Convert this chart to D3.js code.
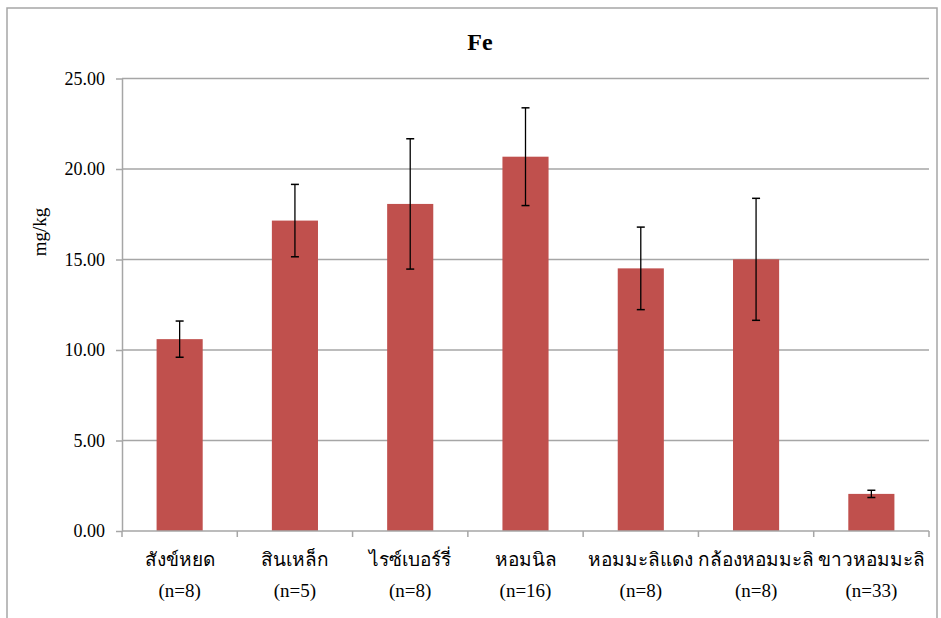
<!DOCTYPE html>
<html>
<head>
<meta charset="utf-8">
<script src="https://cdn.jsdelivr.net/npm/d3@7"></script>
<style>
  body { margin: 0; background: #fff; }
  svg text { font-family: "Liberation Serif", "Times New Roman", Tinos, "DejaVu Serif", serif; fill: #000; }
</style>
</head>
<body>
<div id="chart"></div>
<script>
// data
var cultivars = ["สังข์หยด", "สินเหล็ก", "ไรซ์เบอร์รี่", "หอมนิล", "หอมมะลิแดง", "กล้องหอมมะลิ", "ขาวหอมมะลิ"];
var sampleN = ["(n=8)", "(n=5)", "(n=8)", "(n=16)", "(n=8)", "(n=8)", "(n=33)"];
var feMean = [10.6, 17.15, 18.07, 20.68, 14.51, 15.01, 2.05];
var feSD = [1.0, 2.0, 3.6, 2.7, 2.28, 3.37, 0.2];
var yTicks = [0, 5, 10, 15, 20, 25];

var serif = "'Liberation Serif', 'Times New Roman', Tinos, 'DejaVu Serif', serif";

var svgWidth = 941;
var svgHeight = 618;

var margin = { top: 78.5, right: 12, bottom: 87, left: 122 };
var chartWidth = svgWidth - margin.left - margin.right;
var chartHeight = svgHeight - margin.top - margin.bottom;

var svg = d3.select("#chart")
  .append("svg")
  .attr("width", svgWidth)
  .attr("height", svgHeight)
  .attr("font-family", serif);

// outer chart frame
svg.append("rect")
  .attr("x", 7)
  .attr("y", 8)
  .attr("width", 930)
  .attr("height", 650)
  .attr("fill", "none")
  .attr("stroke", "#a6a6a6")
  .attr("stroke-width", 1.5);

var chartGroup = svg.append("g")
  .attr("transform", `translate(${margin.left}, ${margin.top})`);

var xScale = d3.scaleBand()
  .domain(cultivars)
  .range([0, chartWidth])
  .paddingInner(0.6)
  .paddingOuter(0.3);

var yScale = d3.scaleLinear()
  .domain([0, 25])
  .range([chartHeight, 0]);

// gridlines
chartGroup.selectAll(".grid")
  .data(yTicks.slice(1))
  .enter()
  .append("line")
  .attr("x1", 0)
  .attr("x2", chartWidth)
  .attr("y1", d => yScale(d))
  .attr("y2", d => yScale(d))
  .attr("stroke", "#a6a6a6")
  .attr("stroke-width", 1.5);

// bars
chartGroup.selectAll(".bar")
  .data(feMean)
  .enter()
  .append("rect")
  .attr("x", (d, i) => xScale(cultivars[i]))
  .attr("y", d => yScale(d))
  .attr("width", xScale.bandwidth())
  .attr("height", d => chartHeight - yScale(d))
  .attr("fill", "#c0504d");

// error bars
var err = chartGroup.selectAll(".err")
  .data(feMean)
  .enter()
  .append("g")
  .attr("transform", (d, i) => `translate(${xScale(cultivars[i]) + xScale.bandwidth() / 2},0)`);

err.append("line")
  .attr("y1", (d, i) => yScale(d + feSD[i]))
  .attr("y2", (d, i) => yScale(d - feSD[i]))
  .attr("stroke", "#000")
  .attr("stroke-width", 1.3);

err.append("line")
  .attr("x1", -4).attr("x2", 4)
  .attr("y1", (d, i) => yScale(d + feSD[i]))
  .attr("y2", (d, i) => yScale(d + feSD[i]))
  .attr("stroke", "#000")
  .attr("stroke-width", 1.5);

err.append("line")
  .attr("x1", -4).attr("x2", 4)
  .attr("y1", (d, i) => yScale(d - feSD[i]))
  .attr("y2", (d, i) => yScale(d - feSD[i]))
  .attr("stroke", "#000")
  .attr("stroke-width", 1.5);

// left axis
var leftAxis = d3.axisLeft(yScale)
  .tickValues(yTicks)
  .tickFormat(d3.format(".2f"))
  .tickSize(6)
  .tickSizeOuter(0)
  .tickPadding(11);

var yAxisG = chartGroup.append("g")
  .call(leftAxis)
  .attr("font-family", serif)
  .attr("font-size", 18);
yAxisG.selectAll("path, line").attr("stroke", "#a6a6a6").attr("stroke-width", 1.5);
yAxisG.selectAll("text").attr("fill", "#000");

// bottom axis with boundary ticks
var bottomG = chartGroup.append("g")
  .attr("transform", `translate(0, ${chartHeight})`);

bottomG.append("line")
  .attr("x1", 0).attr("x2", chartWidth)
  .attr("stroke", "#a6a6a6")
  .attr("stroke-width", 1.5);

var step = xScale.step();
bottomG.selectAll(".xtick")
  .data(d3.range(cultivars.length + 1))
  .enter()
  .append("line")
  .attr("x1", d => d * step)
  .attr("x2", d => d * step)
  .attr("y1", 0)
  .attr("y2", 6)
  .attr("stroke", "#a6a6a6")
  .attr("stroke-width", 1.5);

var labels = bottomG.selectAll(".xlab")
  .data(cultivars)
  .enter()
  .append("text")
  .attr("text-anchor", "middle")
  .attr("x", d => xScale(d) + xScale.bandwidth() / 2)
  .attr("font-size", 19);

labels.append("tspan")
  .attr("x", d => xScale(d) + xScale.bandwidth() / 2)
  .attr("y", 35)
  .text(d => d);

labels.append("tspan")
  .attr("x", d => xScale(d) + xScale.bandwidth() / 2)
  .attr("y", 66)
  .text((d, i) => sampleN[i]);

// title
svg.append("text")
  .attr("x", 480)
  .attr("y", 50)
  .attr("text-anchor", "middle")
  .attr("font-size", 24)
  .attr("font-weight", "bold")
  .text("Fe");

// y axis label
svg.append("text")
  .attr("transform", "rotate(-90)")
  .attr("x", -232)
  .attr("y", 46)
  .attr("text-anchor", "middle")
  .attr("font-size", 19)
  .text("mg/kg");
</script>
</body>
</html>
